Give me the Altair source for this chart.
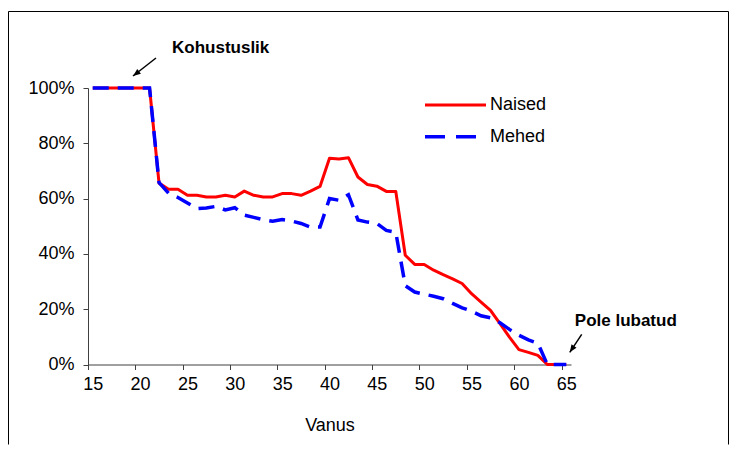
import altair as alt
import pandas as pd

# ---- data ----
ages = list(range(15, 66))
naised = [100, 100, 100, 100, 100, 100, 100,
          65.6, 63.4, 63.4, 61.2, 61.2, 60.6, 60.6, 61.2, 60.6, 62.7,
          61.2, 60.6, 60.6, 61.8, 61.8, 61.2, 62.7, 64.4, 74.6, 74.3,
          74.8, 67.8, 65.1, 64.5, 62.6, 62.6, 39.5, 36.2, 36.2, 34.1,
          32.5, 31.0, 29.3, 25.6, 22.6, 19.6, 14.8, 9.9, 5.4, 4.4,
          3.3, 0, 0, 0]
mehed = [100, 100, 100, 100, 100, 100, 100,
         65.8, 62.0, 60.4, 58.4, 56.4, 56.6, 57.2, 55.9, 56.7, 54.0,
         53.2, 52.4, 51.8, 52.4, 51.9, 51.0, 49.7, 49.7, 60.0, 59.4,
         61.4, 52.3, 51.5, 51.0, 48.5, 47.8, 28.5, 26.2, 25.4, 24.7,
         23.8, 22.1, 20.5, 19.3, 17.6, 16.9, 15.1, 12.7, 10.6, 8.9,
         7.7, 0, 0, 0]
series_names = ["Naised", "Mehed"]
series_colors = ["#FF0000", "#0000FF"]
x_ticks = list(range(15, 66, 5))
y_ticks = [0, 0.2, 0.4, 0.6, 0.8, 1.0]

ann_labels = ["Kohustuslik", "Pole lubatud"]
ann_x = [23.37, 65.9]
ann_y = [1.1447, 0.157]
arrow_tail_x = [21.68, 66.63]
arrow_tail_y = [1.1085, 0.109]
arrow_head_x = [19.25, 65.37]
arrow_head_y = [1.0434, 0.044]
arrow_angle = [232.8, 213.7]

FONT = "Liberation Sans"

df = pd.DataFrame({
    "Vanus": ages + ages,
    "Osakaal": [v / 100 for v in naised + mehed],
    "Sugu": [series_names[0]] * len(ages) + [series_names[1]] * len(ages),
})
ann_df = pd.DataFrame({"label": ann_labels, "x": ann_x, "y": ann_y})
arrow_df = pd.DataFrame({"tx": arrow_tail_x, "ty": arrow_tail_y,
                         "hx": arrow_head_x, "hy": arrow_head_y,
                         "ang": arrow_angle})
one = pd.DataFrame({"a": [0]})

step = 483 / 51.0

xscale = alt.Scale(domain=[14.5, 65.5], nice=False, zero=False)
yscale = alt.Scale(domain=[0, 1], nice=False)

x_enc = alt.X("Vanus:Q", scale=xscale,
              axis=alt.Axis(values=x_ticks, title="Vanus", format="d",
                            tickOffset=-step / 2, labelOffset=step / 2,
                            tickSize=5, labelPadding=6, titlePadding=23,
                            labelFontSize=18, titleFontSize=18,
                            titleFontWeight="normal", grid=False,
                            labelFont=FONT, titleFont=FONT,
                            labelColor="#000000", titleColor="#000000",
                            domainColor="#404040", tickColor="#404040"))
y_enc = alt.Y("Osakaal:Q", scale=yscale,
              axis=alt.Axis(values=y_ticks, format=".0%", title=None,
                            tickSize=5, labelPadding=9, labelFontSize=18,
                            labelFont=FONT, labelColor="#000000", grid=False,
                            domainColor="#404040", tickColor="#404040"))

base = alt.Chart(df)
red = base.transform_filter(alt.datum.Sugu == series_names[0]).mark_line(
    color=series_colors[0], strokeWidth=3, strokeJoin="round"
).encode(x=x_enc, y=y_enc)
blue = base.transform_filter(alt.datum.Sugu == series_names[1]).mark_line(
    color=series_colors[1], strokeWidth=3.5, strokeDash=[16, 9], strokeCap="butt"
).encode(x="Vanus:Q", y="Osakaal:Q")

# legend (drawn by hand)
leg_layers = []
for i, (name, col) in enumerate(zip(series_names, series_colors)):
    ly = 17 + i * 31.7
    sub = alt.Chart(pd.DataFrame({"Sugu": [name]}))
    rule = sub.mark_rule(color=col, strokeWidth=3.5 if i else 3,
                         strokeDash=[20, 11] if i else [1, 0]).encode(
        x=alt.value(337), x2=alt.value(398), y=alt.value(ly))
    txt = sub.mark_text(align="left", baseline="middle", fontSize=18,
                        font=FONT, color="#000000").encode(
        x=alt.value(402), y=alt.value(ly), text="Sugu:N")
    leg_layers += [rule, txt]

# annotations
ann_text = alt.Chart(ann_df).mark_text(
    align="left", baseline="middle", fontSize=17, fontWeight="bold",
    font=FONT, color="#000000").encode(
    x=alt.X("x:Q", scale=xscale), y=alt.Y("y:Q", scale=yscale), text="label:N")
arrow_line = alt.Chart(arrow_df).mark_rule(color="#000000", strokeWidth=1.5).encode(
    x=alt.X("tx:Q", scale=xscale), y=alt.Y("ty:Q", scale=yscale),
    x2="hx:Q", y2="hy:Q")
arrow_head = alt.Chart(arrow_df).mark_point(
    shape="M0,0L-0.55,1.4L0.55,1.4Z", filled=True, size=120,
    color="#000000", opacity=1).encode(
    x=alt.X("hx:Q", scale=xscale), y=alt.Y("hy:Q", scale=yscale),
    angle=alt.Angle("ang:Q", scale=None))

# outer frame
frame_c = "#000000"
frame = [
    alt.Chart(one).mark_rule(color=frame_c, strokeWidth=1).encode(
        x=alt.value(-79.5), x2=alt.value(640.5), y=alt.value(-76.5)),
    alt.Chart(one).mark_rule(color=frame_c, strokeWidth=1).encode(
        x=alt.value(-79.5), y=alt.value(-76.5), y2=alt.value(356.5)),
    alt.Chart(one).mark_rule(color=frame_c, strokeWidth=1).encode(
        x=alt.value(640.5), y=alt.value(-76.5), y2=alt.value(356.5)),
]

chart = alt.layer(red, blue, ann_text, arrow_line, arrow_head,
                  *leg_layers, *frame).properties(
    width=483, height=276.5,
    autosize=alt.AutoSizeParams(type="none"),
    padding={"left": 80, "top": 80, "right": 158, "bottom": 80},
    background="#FFFFFF",
).configure_view(stroke=None)

chart.save("out.html", embed_options={"renderer": "svg", "actions": False})
